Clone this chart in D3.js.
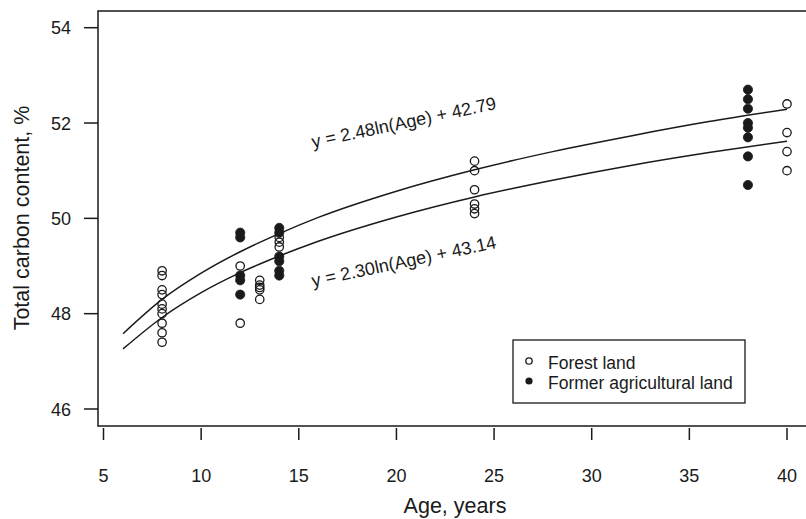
<!DOCTYPE html>
<html>
<head>
<meta charset="utf-8">
<script src="https://cdn.jsdelivr.net/npm/d3@7"></script>
<style>
  html, body { margin: 0; padding: 0; background: #fff; }
  svg { display: block; font-family: "Liberation Sans", Arial, sans-serif; }
</style>
</head>
<body>
<svg id="chart" width="806" height="519"></svg>
<script>
// ---- data ----
const forestAges   = [8,8,8,8,8,8,8,8,8,8, 12,12, 13,13,13,13,13, 14,14,14, 24,24,24,24,24,24, 40,40,40,40];
const forestValues = [48.9,48.8,48.5,48.4,48.2,48.1,48.0,47.8,47.6,47.4, 49.0,47.8, 48.7,48.6,48.55,48.5,48.3, 49.6,49.5,49.4, 51.2,51.0,50.6,50.3,50.2,50.1, 52.4,51.8,51.4,51.0];
const agriAges     = [12,12,12,12,12, 14,14,14,14,14,14, 38,38,38,38,38,38,38,38];
const agriValues   = [49.7,49.6,48.8,48.7,48.4, 49.8,49.7,49.2,49.1,48.9,48.8, 52.7,52.5,52.3,52.0,51.9,51.7,51.3,50.7];
const curveAges    = [6,8,10,12,14,16,20,24,28,32,36,40];
const curveUpper   = [47.58,48.30,48.85,49.30,49.68,50.02,50.57,51.02,51.40,51.73,52.03,52.29];
const curveLower   = [47.26,47.92,48.44,48.86,49.21,49.52,50.03,50.45,50.80,51.11,51.38,51.62];
const xTicks       = [5,10,15,20,25,30,35,40];
const yTicks       = [46,48,50,52,54];
const eqLabels     = ["y = 2.48ln(Age) + 42.79", "y = 2.30ln(Age) + 43.14"];
const legendLabels = ["Forest land", "Former agricultural land"];

// ---- layout ----
const svg = d3.select("#chart");
const box = {left: 98, top: 11, right: 808, bottom: 426};
const x = d3.scaleLinear().domain([5, 40]).range([103.5, 787]);
const y = d3.scaleLinear().domain([46, 54]).range([409, 27.7]);
const ink = "#1a1a1a";

// curves
const line = d3.line().x(d => x(d[0])).y(d => y(d[1])).curve(d3.curveMonotoneX);
[curveUpper, curveLower].forEach(vals => {
  svg.append("path")
    .attr("d", line(curveAges.map((a, i) => [a, vals[i]])))
    .attr("fill", "none").attr("stroke", ink).attr("stroke-width", 1.5);
});

// points
svg.append("g").selectAll("circle").data(forestAges.map((a, i) => [a, forestValues[i]]))
  .join("circle")
  .attr("cx", d => x(d[0])).attr("cy", d => y(d[1])).attr("r", 4.2)
  .attr("fill", "none").attr("stroke", ink).attr("stroke-width", 1.3);
svg.append("g").selectAll("circle").data(agriAges.map((a, i) => [a, agriValues[i]]))
  .join("circle")
  .attr("cx", d => x(d[0])).attr("cy", d => y(d[1])).attr("r", 4.6)
  .attr("fill", ink).attr("stroke", ink).attr("stroke-width", 0.8);

// box
svg.append("rect")
  .attr("x", box.left).attr("y", box.top)
  .attr("width", box.right - box.left).attr("height", box.bottom - box.top)
  .attr("fill", "none").attr("stroke", ink).attr("stroke-width", 1.5);

// y axis
const yAxis = svg.append("g");
yAxis.selectAll("line").data(yTicks).join("line")
  .attr("x1", 84).attr("x2", box.left).attr("y1", d => y(d)).attr("y2", d => y(d))
  .attr("stroke", ink).attr("stroke-width", 1.5);
yAxis.selectAll("text").data(yTicks).join("text")
  .attr("x", 71).attr("y", d => y(d) + 6.5)
  .attr("text-anchor", "end").attr("font-size", 18).attr("fill", ink)
  .text(d => d);

// x axis
const xAxis = svg.append("g");
xAxis.selectAll("line").data(xTicks).join("line")
  .attr("x1", d => x(d)).attr("x2", d => x(d)).attr("y1", 428).attr("y2", 440)
  .attr("stroke", ink).attr("stroke-width", 1.5);
xAxis.selectAll("text").data(xTicks).join("text")
  .attr("x", d => x(d)).attr("y", 482)
  .attr("text-anchor", "middle").attr("font-size", 18).attr("fill", ink)
  .text(d => d);

// axis titles
svg.append("text")
  .attr("transform", "translate(29,218) rotate(-90)")
  .attr("text-anchor", "middle").attr("font-size", 21.5).attr("fill", ink)
  .text("Total carbon content, %");
svg.append("text")
  .attr("x", 455).attr("y", 513)
  .attr("text-anchor", "middle").attr("font-size", 21.5).attr("fill", ink)
  .text("Age, years");

// equation labels
svg.append("text")
  .attr("transform", "translate(313,148) rotate(-12)")
  .attr("font-size", 18).attr("fill", ink).text(eqLabels[0]);
svg.append("text")
  .attr("transform", "translate(313,287) rotate(-12)")
  .attr("font-size", 18).attr("fill", ink).text(eqLabels[1]);

// legend
const lg = svg.append("g");
lg.append("rect").attr("x", 513).attr("y", 340).attr("width", 232).attr("height", 63)
  .attr("fill", "#fff").attr("stroke", ink).attr("stroke-width", 1.3);
lg.append("circle").attr("cx", 529).attr("cy", 361).attr("r", 3.2)
  .attr("fill", "none").attr("stroke", ink).attr("stroke-width", 1.3);
lg.append("circle").attr("cx", 529).attr("cy", 381).attr("r", 3.6)
  .attr("fill", ink);
lg.selectAll("text").data(legendLabels).join("text")
  .attr("x", 548).attr("y", (d, i) => 369 + i * 20)
  .attr("font-size", 17.5).attr("fill", ink).text(d => d);
</script>
</body>
</html>
